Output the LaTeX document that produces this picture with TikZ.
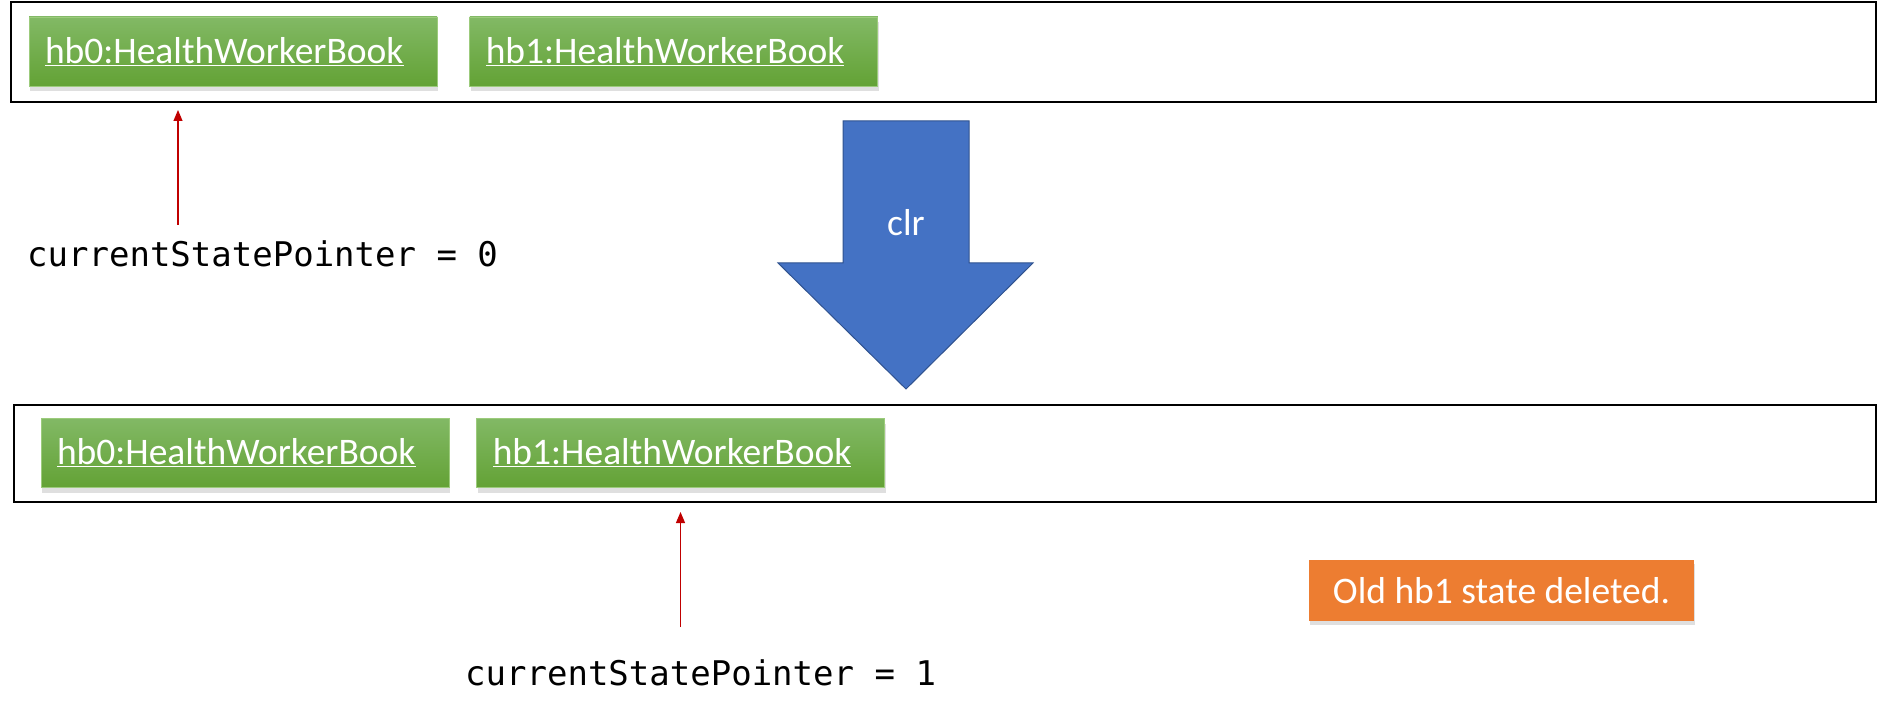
\documentclass[tikz,border=0pt]{standalone}
\usepackage{fontspec}
\setmainfont{Carlito}
\setmonofont{DejaVu Sans Mono}
\usepackage{xcolor}
\usetikzlibrary{positioning,shadows,arrows.meta}
\tikzset{>=latex}
\definecolor{bookgreenA}{HTML}{82B965}
\definecolor{bookgreenB}{HTML}{63A235}
\definecolor{bookline}{HTML}{9CCB7C}
\definecolor{clrblue}{HTML}{4472C4}
\definecolor{clrline}{HTML}{2F528F}
\definecolor{noteorange}{HTML}{ED7D31}
\definecolor{ptrred}{HTML}{C00000}

\begin{document}
\begin{tikzpicture}[x=1pt, y=-1pt,
  BOOK/.style={rectangle, top color=bookgreenA, bottom color=bookgreenB,
               draw=bookline, line width=0.8pt,
               minimum height=69pt, text width=376pt,
               inner xsep=16pt, inner ysep=0pt, align=left, text=white,
               font=\fontsize{37.5}{45}\selectfont,
               drop shadow={shadow xshift=1pt, shadow yshift=-5pt, opacity=0.25}},
  FRAME/.style={rectangle, draw, line width=2.5pt, inner sep=0pt},
  PTR/.style={draw=ptrred, line width=1.2pt,
              -{Triangle[length=11pt, width=9pt, fill=ptrred]}},
  STATE/.style={font=\ttfamily\fontsize{34}{40}\selectfont,
                anchor=base west, inner sep=0pt},
  NOTE/.style={rectangle, fill=noteorange, text=white,
               minimum width=385pt, minimum height=61pt, inner sep=0pt,
               font=\fontsize{37.5}{45}\selectfont,
               drop shadow={shadow xshift=1pt, shadow yshift=-4pt, opacity=0.25}}
]
\useasboundingbox (0,0) rectangle (1880,719);

% state before clr
\node[FRAME, minimum width=1865pt, minimum height=100pt] (frame0) at (943.5,52) {};
\node[BOOK] (hb0a) at (233,51.5) {\underline{hb0:HealthWorkerBook}};
\node[BOOK, right=32pt of hb0a] (hb1a) {\underline{hb1:HealthWorkerBook}};

\node[STATE] (ptr0) at (27,267) {currentStatePointer = 0};
\coordinate (ptr0tail) at (178,225);
\coordinate (ptr0head) at (178,110);
\draw[PTR] (ptr0tail) -- (ptr0head);

% clr arrow
\filldraw[fill=clrblue, draw=clrline, line width=1pt]
  (843,121) -- (969,121) -- (969,263) -- (1033,263) -- (906,389)
  -- (778,263) -- (843,263) -- cycle;
\node[text=white, font=\fontsize{37.5}{45}\selectfont, anchor=base] (clr) at (906,236) {clr};

% state after clr
\node[FRAME, minimum width=1862pt, minimum height=97pt] (frame1) at (945,453.5) {};
\node[BOOK] (hb0b) at (245,453) {\underline{hb0:HealthWorkerBook}};
\node[BOOK, right=27pt of hb0b] (hb1b) {\underline{hb1:HealthWorkerBook}};

\node[STATE] (ptr1) at (465,685) {currentStatePointer = 1};
\coordinate (ptr1tail) at (680.5,627);
\coordinate (ptr1head) at (680.5,512);
\draw[PTR] (ptr1tail) -- (ptr1head);

\node[NOTE] (note) at (1501.5,590.5) {Old hb1 state deleted.};
\end{tikzpicture}
\end{document}
